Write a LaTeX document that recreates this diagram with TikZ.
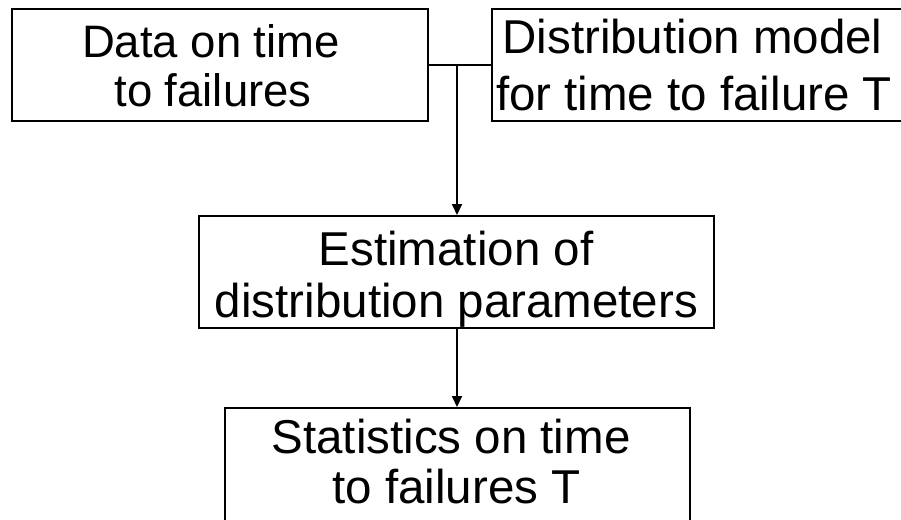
\documentclass[tikz,border=0pt]{standalone}
\usepackage{fontspec}
\setmainfont{Liberation Sans}
\usetikzlibrary{arrows.meta}
\begin{document}
\begin{tikzpicture}[x=1pt,y=-1pt,
  box/.style={draw=black,line width=2pt,inner sep=0pt,minimum width=#1,minimum height=112pt},
  tallbox/.style={draw=black,line width=2pt,inner sep=0pt,minimum width=#1,minimum height=130pt},
  txt/.style={anchor=base,inner sep=0pt,font=\fontsize{47.5}{50}\selectfont},
  txtA/.style={anchor=base,inner sep=0pt,font=\fontsize{45.5}{50}\selectfont},
  link/.style={line width=2pt},
  arr/.style={line width=2pt,-{Triangle[length=11pt,width=10pt]}}]
\clip (0,0) rectangle (901,519);
% boxes
\node[box=416pt] (A) at (220,65) {};
\node[box=470pt] (B) at (727,65) {};
\node[box=515pt] (C) at (456.5,272) {};
\node[tallbox=465pt] (D) at (457.5,473) {};
% texts
\node[txtA] (a1) at (211,57) {Data on time};
\node[txtA] (a2) at (213,106) {to failures};
\node[txt] (b1) at (692.5,54) {Distribution model};
\node[txt] (b2) at (694,110) {for time to failure T};
\node[txt] (c1) at (456,265) {Estimation of};
\node[txt] (c2) at (456.5,317) {distribution parameters};
\node[txt] (d1) at (451,453) {Statistics on time};
\node[txt] (d2) at (456.5,503) {to failures T};
% connectors
\coordinate (j) at (457,65);
\draw[link] (A.east) -- (B.west);
\draw[arr] (j) -- (j |- C.north);
\draw[arr] (C.south -| j) -- (D.north -| j);
\end{tikzpicture}
\end{document}
